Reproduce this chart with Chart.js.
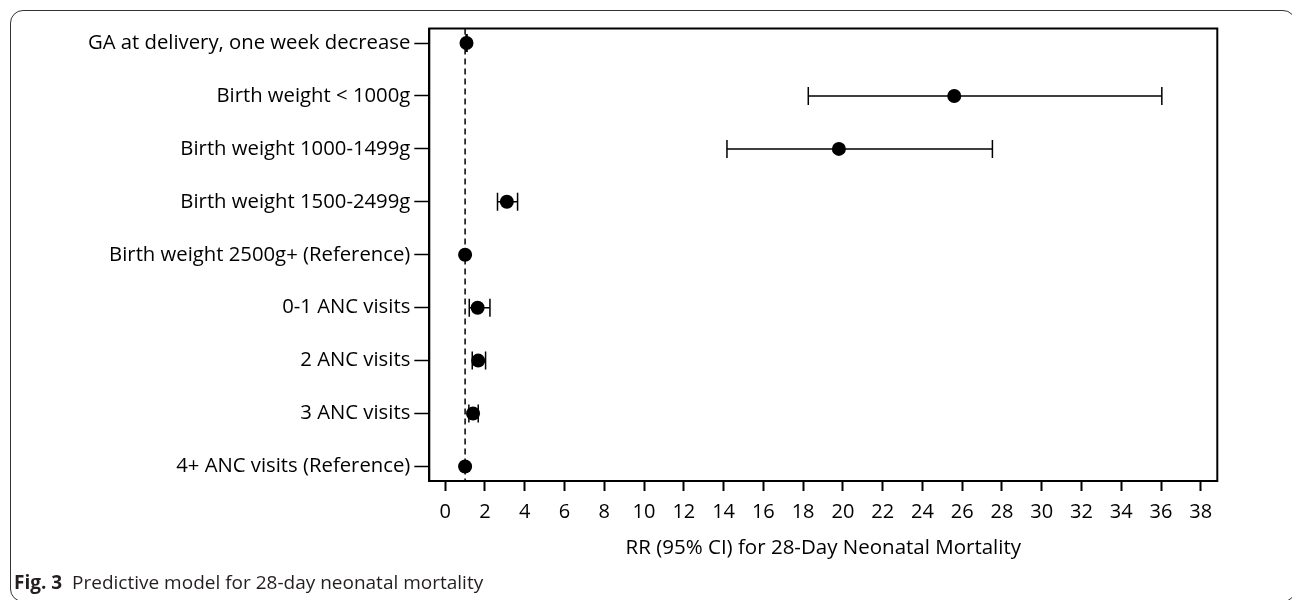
<!DOCTYPE html>
<html><head><meta charset="utf-8">
<script src="https://cdn.jsdelivr.net/npm/chart.js@4/dist/chart.umd.min.js"></script>
<style>
html,body{margin:0;padding:0;background:#fff;width:1292px;height:600px;overflow:hidden;position:relative;}
#frame{position:absolute;left:10px;top:10px;width:1286px;height:592px;border:1px solid #333;border-radius:13px;box-sizing:border-box;}
#wrap{position:absolute;left:0;top:0;width:1292px;height:600px;}
#cap{position:absolute;left:14px;top:571px;font-family:"Open Sans";font-size:19px;color:#231f20;white-space:nowrap;line-height:22px;}
</style></head>
<body>
<div id="frame"></div>
<div id="wrap"><canvas id="c" width="1292" height="600"></canvas></div>
<div id="cap"><b>Fig. 3</b>&nbsp; Predictive model for 28-day neonatal mortality</div>
<script>
const categories = [
  "GA at delivery, one week decrease",
  "Birth weight < 1000g",
  "Birth weight 1000-1499g",
  "Birth weight 1500-2499g",
  "Birth weight 2500g+ (Reference)",
  "0-1 ANC visits",
  "2 ANC visits",
  "3 ANC visits",
  "4+ ANC visits (Reference)"
];
const estimates = [1.07, 25.6, 19.8, 3.1, 1.0, 1.63, 1.66, 1.4, 1.0];
const lowerCI   = [1.05, 18.26, 14.17, 2.63, 1.0, 1.21, 1.36, 1.19, 1.0];
const upperCI   = [1.10, 36.04, 27.52, 3.64, 1.0, 2.25, 2.03, 1.66, 1.0];
const xTicks = [0,2,4,6,8,10,12,14,16,18,20,22,24,26,28,30,32,34,36,38];
const referenceValue = 1;
const xAxisTitle = "RR (95% CI) for 28-Day Neonatal Mortality";

const FONT = "'Open Sans'";

const points = estimates.map((v, i) => ({x: v, y: i}));

const forestPlugin = {
  id: 'forest',
  beforeDatasetsDraw(chart) {
    const {ctx, chartArea, scales: {x, y}} = chart;
    ctx.save();
    ctx.strokeStyle = '#000';
    ctx.lineWidth = 1.5;
    ctx.setLineDash([6, 4]);
    const rx = x.getPixelForValue(referenceValue);
    ctx.beginPath();
    ctx.moveTo(rx, chartArea.top);
    ctx.lineTo(rx, chartArea.bottom);
    ctx.stroke();
    ctx.setLineDash([]);
    ctx.lineWidth = 1.5;
    const cap = 9;
    for (let i = 0; i < categories.length; i++) {
      if (upperCI[i] - lowerCI[i] <= 0.001) continue;
      const py = y.getPixelForValue(i);
      const x1 = x.getPixelForValue(lowerCI[i]);
      const x2 = x.getPixelForValue(upperCI[i]);
      ctx.beginPath();
      ctx.moveTo(x1, py); ctx.lineTo(x2, py);
      ctx.moveTo(x1, py - cap); ctx.lineTo(x1, py + cap);
      ctx.moveTo(x2, py - cap); ctx.lineTo(x2, py + cap);
      ctx.stroke();
    }
    ctx.restore();
  },
  afterDraw(chart) {
    const {ctx, chartArea} = chart;
    ctx.save();
    ctx.strokeStyle = '#000';
    ctx.lineWidth = 2;
    ctx.strokeRect(chartArea.left, chartArea.top, chartArea.right - chartArea.left, chartArea.bottom - chartArea.top);
    ctx.restore();
  }
};

new Chart(document.getElementById('c'), {
  type: 'scatter',
  data: {
    datasets: [{
      data: points,
      pointRadius: 7,
      pointHoverRadius: 7,
      pointBackgroundColor: '#000',
      pointBorderWidth: 0,
      showLine: false
    }]
  },
  options: {
    responsive: false,
    animation: false,
    events: [],
    layout: {padding: {left: 0, top: 28.5, right: 74.7, bottom: 40}},
    plugins: {legend: {display: false}, tooltip: {enabled: false}},
    scales: {
      x: {
        type: 'linear',
        min: -0.8,
        max: 38.83,
        afterBuildTicks(scale) { scale.ticks = xTicks.map(v => ({value: v})); },
        afterFit(scale) { scale.height = 79; },
        grid: {drawOnChartArea: false, drawTicks: true, tickLength: 10, tickWidth: 2, color: '#000'},
        border: {display: true, color: '#000', width: 2},
        ticks: {color: '#000', font: {family: FONT, size: 20}, padding: 9, maxRotation: 0, autoSkip: false},
        title: {display: true, text: xAxisTitle, color: '#000', font: {family: FONT, size: 20.5}, padding: 0}
      },
      y: {
        type: 'linear',
        reverse: true,
        min: -0.274,
        max: 8.274,
        afterBuildTicks(scale) { scale.ticks = categories.map((c, i) => ({value: i})); },
        afterFit(scale) { scale.width = 429.3; },
        grid: {drawOnChartArea: false, drawTicks: true, tickLength: 15, tickWidth: 1.5, color: '#000'},
        border: {display: true, color: '#000', width: 2},
        ticks: {
          color: '#000', font: {family: FONT, size: 20.3}, padding: 4, autoSkip: false,
          callback: (v) => categories[v] !== undefined ? categories[v] : ''
        }
      }
    }
  },
  plugins: [forestPlugin]
});
</script>
</body></html>
